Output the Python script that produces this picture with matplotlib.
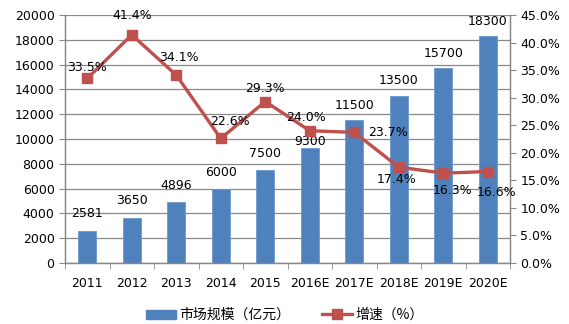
import numpy as np
import matplotlib
matplotlib.use("Agg")
import matplotlib.pyplot as plt
from matplotlib.patches import Patch
from matplotlib.lines import Line2D

plt.rcParams['font.family'] = ['DejaVu Sans', 'Noto Sans CJK SC']

years = ["2011", "2012", "2013", "2014", "2015", "2016E", "2017E", "2018E", "2019E", "2020E"]
market = [2581, 3650, 4896, 6000, 7500, 9300, 11500, 13500, 15700, 18300]
growth = [33.5, 41.4, 34.1, 22.6, 29.3, 24.0, 23.7, 17.4, 16.3, 16.6]

# label offsets in pixels (dx, dy), positive dy is upward
bar_lbl_off = [(0, 17), (0, 17), (0, 17), (0, 16), (0, 17), (0, 6), (0, 15), (0, 15), (0, 15), (0, 15)]
line_lbl_off = [(0, 11), (0, 19), (3, 18), (9, 17), (0, 13), (-4, 13), (34, 0), (-2, -12), (9, -17), (9, -21)]

blue = "#4F81BD"
red = "#C0504D"
grid_c = "#888888"
fs = 9

fig = plt.figure(figsize=(5.69, 3.24), dpi=100)
ax = fig.add_axes([65 / 569, 1 - 263 / 324, 445 / 569, 248 / 324])
ax2 = ax.twinx()

x = np.arange(len(years))
ax.bar(x, market, width=0.4, color=blue, edgecolor="#6C98CF", linewidth=0.6, zorder=2)
ax.set_ylim(0, 20000)
ax.set_yticks(range(0, 20001, 2000))
ax.set_xlim(-0.5, len(years) - 0.5)
ax.set_xticks(x)
ax.set_xticklabels(years, fontsize=fs)
ax.set_xticks(np.arange(-0.5, len(years)), minor=True)
ax.tick_params(axis='x', which='major', length=0, pad=10)
ax.tick_params(axis='x', which='minor', length=4, color=grid_c, direction='out')
ax.tick_params(axis='y', length=4, color=grid_c, labelsize=fs)
ax.yaxis.grid(True, color=grid_c, linewidth=0.9, zorder=0)
ax.set_axisbelow(True)

for i, v in enumerate(market):
    dx, dy = bar_lbl_off[i]
    ax.annotate(str(v), (x[i], v), xytext=(dx, dy), textcoords='offset pixels',
                ha='center', va='center', fontsize=fs, zorder=5)

ax2.plot(x, growth, color=red, linewidth=2.4, marker='s', markersize=7.5,
         markerfacecolor=red, markeredgecolor=red, zorder=4)
ax2.set_ylim(0, 45)
ax2.set_yticks(np.arange(0, 45.1, 5))
ax2.set_yticklabels([f"{t:.1f}%" for t in np.arange(0, 45.1, 5)])
ax2.tick_params(axis='y', length=4, color=grid_c, labelsize=fs)

for i, g in enumerate(growth):
    dx, dy = line_lbl_off[i]
    ax2.annotate(f"{g:.1f}%", (x[i], g), xytext=(dx, dy), textcoords='offset pixels',
                 ha='center', va='center', fontsize=fs, zorder=6)

for a in (ax, ax2):
    a.spines['top'].set_visible(False)
    for s in ('left', 'right', 'bottom'):
        a.spines[s].set_color(grid_c)
        a.spines[s].set_linewidth(0.9)

handles = [Patch(facecolor=blue, edgecolor=blue),
           Line2D([0], [0], color=red, linewidth=2.4, marker='s', markersize=7.5)]
fig.legend(handles, ["市场规模（亿元）", "增速（%）"], loc='center', bbox_to_anchor=(0.5, 1 - 315 / 324),
           ncol=2, frameon=False, handlelength=2.2, columnspacing=2.3,
           handletextpad=0.2, handleheight=0.6, borderpad=0.1,
           prop={'family': ['Noto Sans CJK SC', 'DejaVu Sans'], 'size': 10})

fig.savefig("out.png", dpi=100)
